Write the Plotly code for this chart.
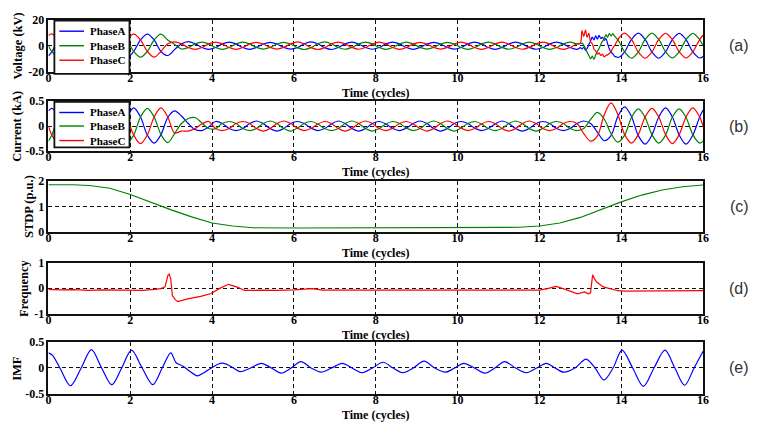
import numpy as np
import plotly.graph_objects as go

# ---------------------------------------------------------------------------
# Sampling instants (in cycles). Phase waveforms are sampled six times per
# cycle (offset by 1/12 cycle); the voltage recovery 13-14 is sampled 24x/cycle.
# ---------------------------------------------------------------------------
def six_per_cycle(c0, c1):
    return list(np.arange(12 * c0 + 1, 12 * c1, 2) / 12)

t_volt = [0.0] + six_per_cycle(0, 13) + list(np.arange(13 * 24, 14 * 24) / 24) + six_per_cycle(14, 16) + [16.0]
t_curr = [0.0] + six_per_cycle(0, 16) + [16.0]

# ---------------------------------------------------------------------------
# (a) Phase voltages, kV
# ---------------------------------------------------------------------------
volt_a = [-7.8,
          -4.5, 4.5, 9.0, 4.5, -4.5, -9.0,
          -4.6, 4.6, 9.2, 4.6, -4.6, -9.2,
          -4.4, 4.4, 8.8, 4.4, -4.4, -7.5,
          -3.0, 1.4, 3.2, 1.6, -1.4, -2.8,
          -1.4, 1.4, 2.8, 1.4, -1.4, -2.8,
          -1.3, 1.3, 2.6, 1.3, -1.3, -2.6,
          -1.5, 1.5, 2.9, 1.5, -1.5, -2.9,
          -1.4, 1.4, 2.7, 1.3, -1.4, -2.7,
          -1.4, 1.4, 2.8, 1.4, -1.4, -2.8,
          -1.3, 1.3, 2.6, 1.3, -1.3, -2.6,
          -1.4, 1.4, 2.8, 1.4, -1.4, -2.8,
          -1.4, 1.3, 2.7, 1.4, -1.3, -2.7,
          -1.4, 1.4, 2.8, 1.4, -1.4, -2.8,
          -1.5, -2.5, -1.0, -3.5, -2.0, 1.0, 3.5, 6.5, 4.5, 7.5, 5.0, 8.0,
          5.5, 6.5, 4.0, 5.5, 1.5, -2.5, -5.0, -6.0, -8.0, -8.5, -9.0, -8.7,
          -4.8, 4.8, 9.6, 4.8, -4.8, -9.6,
          -4.7, 4.7, 9.4, 4.7, -4.7, -9.4,
          -8.2]
volt_b = [0.0,
          -4.5, -9.0, -4.5, 4.5, 9.0, 4.5,
          -4.6, -9.2, -4.6, 4.6, 9.2, 4.6,
          -4.4, -8.8, -4.4, 4.4, 8.8, 4.4,
          1.0, -2.5, -1.5, 1.4, 2.8, 1.4,
          -1.4, -2.8, -1.4, 1.4, 2.8, 1.4,
          -1.3, -2.6, -1.3, 1.3, 2.6, 1.3,
          -1.5, -2.9, -1.5, 1.5, 2.9, 1.5,
          -1.4, -2.7, -1.3, 1.4, 2.7, 1.4,
          -1.4, -2.8, -1.4, 1.4, 2.8, 1.4,
          -1.3, -2.6, -1.3, 1.3, 2.6, 1.3,
          -1.4, -2.8, -1.4, 1.4, 2.8, 1.4,
          -1.3, -2.7, -1.4, 1.3, 2.7, 1.4,
          -1.4, -2.8, -1.4, 1.4, 2.8, 1.4,
          1.5, 2.0, 0.5, -2.0, -5.0, -7.5, -10.0, -8.0, -10.5, -7.0, -4.5, -2.0,
          1.0, 3.5, 5.5, 8.5, 6.5, 9.5, 7.5, 9.0, 7.5, 6.0, 4.5, 2.5,
          -4.8, -9.6, -4.8, 4.8, 9.6, 4.8,
          -4.7, -9.4, -4.7, 4.7, 9.4, 4.7,
          0.0]
volt_c = [7.8,
          9.0, 4.5, -4.5, -9.0, -4.5, 4.5,
          9.2, 4.6, -4.6, -9.2, -4.6, 4.6,
          8.8, 4.4, -4.4, -8.8, -4.4, 1.5,
          3.0, 1.5, -1.4, -2.8, -1.4, 1.4,
          2.8, 1.4, -1.4, -2.8, -1.4, 1.4,
          2.6, 1.3, -1.3, -2.6, -1.3, 1.3,
          2.9, 1.5, -1.5, -2.9, -1.5, 1.5,
          2.7, 1.4, -1.3, -2.7, -1.4, 1.3,
          2.8, 1.4, -1.4, -2.8, -1.4, 1.4,
          2.6, 1.3, -1.3, -2.6, -1.3, 1.3,
          2.8, 1.4, -1.4, -2.8, -1.4, 1.4,
          2.7, 1.3, -1.4, -2.7, -1.3, 1.4,
          2.8, 1.4, -1.4, -2.8, -1.4, 1.4,
          2.0, 11.5, 7.0, 12.0, 6.5, 9.5, 3.0, 1.5, -2.5, -4.0, -6.5, -5.5,
          -7.5, -6.5, -8.5, -7.5, -7.0, -6.0, -4.5, -2.0, 0.0, 2.3, 4.5, 6.5,
          9.6, 4.8, -4.8, -9.6, -4.8, 4.8,
          9.4, 4.7, -4.7, -9.4, -4.7, 4.7,
          8.2]

# ---------------------------------------------------------------------------
# (b) Phase currents, kA
# ---------------------------------------------------------------------------
curr_a = [0.30,
          0.35, 0.18, -0.18, -0.35, -0.18, 0.18,
          0.34, 0.17, -0.17, -0.34, -0.17, 0.17,
          0.36, 0.18, -0.18, -0.34, -0.17, 0.17,
          0.30, 0.20, 0.05, -0.07, -0.09, -0.02,
          0.09, 0.05, -0.05, -0.09, -0.05, 0.05,
          0.10, 0.05, -0.05, -0.10, -0.05, 0.05,
          0.09, 0.05, -0.04, -0.09, -0.05, 0.04,
          0.10, 0.05, -0.05, -0.10, -0.05, 0.05,
          0.09, 0.04, -0.05, -0.09, -0.04, 0.05,
          0.10, 0.05, -0.05, -0.10, -0.05, 0.05,
          0.09, 0.05, -0.04, -0.09, -0.05, 0.04,
          0.10, 0.05, -0.05, -0.10, -0.05, 0.05,
          0.09, 0.05, -0.05, -0.09, -0.05, 0.05,
          0.10, 0.05, -0.12, -0.29, -0.19, 0.19,
          0.38, 0.19, -0.19, -0.36, -0.18, 0.18,
          0.36, 0.18, -0.18, -0.36, -0.18, 0.18,
          0.32]
curr_b = [-0.30,
          -0.18, 0.18, 0.35, 0.18, -0.18, -0.35,
          -0.17, 0.17, 0.34, 0.17, -0.17, -0.34,
          -0.18, 0.18, 0.35, 0.18, -0.17, -0.33,
          -0.15, 0.05, 0.15, 0.17, 0.06, -0.05,
          -0.05, 0.05, 0.09, 0.05, -0.05, -0.09,
          -0.05, 0.05, 0.10, 0.05, -0.05, -0.10,
          -0.04, 0.05, 0.09, 0.04, -0.05, -0.09,
          -0.05, 0.05, 0.10, 0.05, -0.05, -0.10,
          -0.05, 0.04, 0.09, 0.05, -0.04, -0.09,
          -0.05, 0.05, 0.10, 0.05, -0.05, -0.10,
          -0.04, 0.05, 0.09, 0.04, -0.05, -0.09,
          -0.05, 0.05, 0.10, 0.05, -0.05, -0.10,
          -0.05, 0.05, 0.09, 0.05, -0.05, -0.09,
          -0.05, 0.13, 0.27, 0.14, -0.15, -0.32,
          -0.18, 0.17, 0.34, 0.17, -0.17, -0.34,
          -0.18, 0.18, 0.34, 0.17, -0.17, -0.34,
          -0.30]
curr_c = [0.0,
          -0.18, -0.35, -0.18, 0.18, 0.35, 0.18,
          -0.17, -0.34, -0.17, 0.17, 0.34, 0.17,
          -0.18, -0.35, -0.18, 0.18, 0.36, 0.18,
          -0.14, -0.10, -0.10, -0.05, 0.04, 0.09,
          -0.05, -0.09, -0.05, 0.05, 0.09, 0.05,
          -0.05, -0.10, -0.05, 0.05, 0.10, 0.05,
          -0.04, -0.09, -0.05, 0.04, 0.09, 0.05,
          -0.05, -0.10, -0.05, 0.05, 0.10, 0.05,
          -0.05, -0.09, -0.04, 0.05, 0.09, 0.04,
          -0.05, -0.10, -0.05, 0.05, 0.10, 0.05,
          -0.04, -0.09, -0.05, 0.04, 0.09, 0.05,
          -0.05, -0.10, -0.05, 0.05, 0.10, 0.05,
          -0.05, -0.09, -0.05, 0.05, 0.09, 0.05,
          -0.15, -0.30, -0.20, 0.22, 0.46, 0.23,
          -0.17, -0.34, -0.17, 0.18, 0.35, 0.18,
          -0.17, -0.35, -0.17, 0.18, 0.36, 0.18,
          0.0]

# ---------------------------------------------------------------------------
# (c) STDP, p.u.
# ---------------------------------------------------------------------------
stdp_t = [0, 0.6, 1.0, 1.5, 2.0, 2.5, 2.8, 3.0, 3.5, 4.0, 4.5, 5.0, 6.0, 7.0,
          8.0, 9.0, 10.0, 11.0, 11.5, 12.0, 12.5, 13.0, 13.5, 14.0, 14.5, 15.0,
          15.5, 16.0]
stdp_v = [1.86, 1.86, 1.83, 1.72, 1.47, 1.16, 1.0, 0.86, 0.58, 0.34, 0.22, 0.15,
          0.14, 0.14, 0.14, 0.14, 0.14, 0.15, 0.17, 0.22, 0.34, 0.56, 0.88, 1.18,
          1.45, 1.65, 1.78, 1.85]

# ---------------------------------------------------------------------------
# (d) Frequency deviation
# ---------------------------------------------------------------------------
freq_t = [0, 0.3, 0.6, 1.0, 1.3, 1.6, 2.0, 2.3, 2.6, 2.75,
          2.85, 2.92, 2.95, 2.99, 3.03, 3.1, 3.16, 3.4, 3.72, 3.96,
          4.2, 4.4, 4.6, 4.8, 5.2, 5.6, 6.0, 6.45, 6.7, 7.0,
          7.5, 8.0, 8.5, 9.0, 9.5, 10.0, 10.5, 11.0, 11.5, 12.0,
          12.2, 12.4, 12.6, 12.8, 12.93, 13.1, 13.2, 13.25, 13.3, 13.35,
          13.4, 13.56, 13.76, 13.92, 14.1, 14.5, 15.0, 15.5, 16.0]
freq_v = [-0.05, -0.07, -0.06, -0.09, -0.07, -0.08, -0.07, -0.09, -0.05, -0.02,
          0.05, 0.50, 0.55, 0.35, -0.30, -0.45, -0.52, -0.42, -0.32, -0.22,
          0.0, 0.15, 0.05, -0.09, -0.08, -0.09, -0.07, -0.02, -0.08, -0.08,
          -0.07, -0.09, -0.08, -0.07, -0.09, -0.08, -0.07, -0.09, -0.08, -0.08,
          -0.02, 0.07, -0.03, -0.15, -0.22, -0.15, -0.22, -0.18, 0.52, 0.35,
          0.24, 0.05, -0.03, -0.10, -0.12, -0.11, -0.10, -0.10, -0.10]

# ---------------------------------------------------------------------------
# (e) Intrinsic mode function
# ---------------------------------------------------------------------------
imf_t = [0.0, 0.1, 0.28, 0.54, 0.80, 1.05, 1.30, 1.55, 1.79, 2.03,
         2.29, 2.55, 2.78, 2.99, 3.12, 3.28, 3.45, 3.64, 3.82, 3.96,
         4.2, 4.36, 4.52, 4.68, 4.94, 5.2, 5.45, 5.69, 5.93, 6.17,
         6.42, 6.66, 6.92, 7.18, 7.42, 7.66, 7.92, 8.18, 8.42, 8.66,
         8.92, 9.18, 9.44, 9.70, 9.93, 10.15, 10.41, 10.67, 10.91, 11.15,
         11.42, 11.68, 11.93, 12.17, 12.38, 12.60, 12.87, 13.14, 13.36, 13.58,
         13.80, 14.02, 14.28, 14.54, 14.80, 15.07, 15.31, 15.55, 15.78, 16.0]
imf_v = [0.29, 0.24, 0.0, -0.34, 0.0, 0.35, 0.0, -0.32, 0.0, 0.34,
         0.0, -0.32, 0.0, 0.29, 0.10, 0.04, -0.06, -0.15, -0.08, -0.01,
         0.09, 0.07, 0.0, -0.07, 0.0, 0.09, 0.0, -0.10, 0.0, 0.12,
         0.0, -0.08, 0.0, 0.09, 0.0, -0.09, 0.0, 0.11, 0.0, -0.09,
         0.0, 0.13, 0.0, -0.08, 0.0, 0.09, 0.0, -0.10, 0.0, 0.12,
         0.0, -0.09, 0.0, 0.09, 0.0, -0.08, 0.0, 0.17, 0.0, -0.23,
         0.0, 0.34, 0.0, -0.35, 0.0, 0.34, 0.0, -0.33, 0.0, 0.32]

# ---------------------------------------------------------------------------
# Styling
# ---------------------------------------------------------------------------
W, H = 757, 435
BLUE, GREEN, RED = "#0000ff", "#008000", "#ff0000"
SERIF = "Liberation Serif"
PHASE_NAMES = ["PhaseA", "PhaseB", "PhaseC"]
PHASE_COLORS = [BLUE, GREEN, RED]

# panel frames in pixels: (top, bottom); all share the same left/right
X_LEFT, X_RIGHT = 46, 708.5
PANELS = [(13, 67), (97, 149), (180, 232), (264, 317), (346, 400)]

y_ranges = [[-20, 20], [-0.5, 0.5], [0, 2], [-1, 1], [-0.5, 0.5]]
y_ticks = [[-20, 0, 20], [-0.5, 0, 0.5], [0, 1, 2], [-1, 0, 1], [-0.5, 0, 0.5]]
y_ticktext = [["-20", "0", "20"], ["-0.5", "0", "0.5"], ["0", "1", "2"],
              ["-1", "0", "1"], ["-0.5", "0", "0.5"]]
y_titles = ["Voltage (kV)", "Current (kA)", "STDP (p.u.)", "Frequency", "IMF"]
y_title_x = [15, 14, 27, 21, 14]
panel_tags = ["(a)", "(b)", "(c)", "(d)", "(e)"]
x_ticks = [0, 2, 4, 6, 8, 10, 12, 14, 16]

# legend boxes for the two phase panels: (left, top, right, bottom, row ys) in px
LEGEND_BOXES = [(52, 14, 128, 69, [25, 40, 55]),
                (52, 98, 128, 145, [109, 123, 138])]

fig = go.Figure()

def line(x, y, color, idx, shape="spline"):
    fig.add_trace(go.Scatter(
        x=x, y=y, mode="lines",
        line=dict(color=color, width=1.2, shape=shape, smoothing=0.9),
        xaxis="x" if idx == 0 else f"x{idx + 1}",
        yaxis="y" if idx == 0 else f"y{idx + 1}",
        showlegend=False,
    ))

line(t_volt, volt_a, BLUE, 0)
line(t_volt, volt_b, GREEN, 0)
line(t_volt, volt_c, RED, 0)
line(t_curr, curr_a, BLUE, 1)
line(t_curr, curr_b, GREEN, 1)
line(t_curr, curr_c, RED, 1)
line(stdp_t, stdp_v, GREEN, 2, shape="linear")
line(freq_t, freq_v, RED, 3, shape="linear")
line(imf_t, imf_v, BLUE, 4)

tick_font = dict(family=SERIF, size=12, color="black", weight="bold")
label_font = dict(family=SERIF, size=12, color="black", weight="bold")
legend_font = dict(family=SERIF, size=11, color="black", weight="bold")
layout = dict(
    width=W, height=H,
    margin=dict(l=0, r=0, t=0, b=0),
    paper_bgcolor="white", plot_bgcolor="white",
    annotations=[], shapes=[],
)

def px(xp, yp):
    return xp / W, 1 - yp / H

for i, (top, bot) in enumerate(PANELS):
    sfx = "" if i == 0 else str(i + 1)
    layout["xaxis" + sfx] = dict(
        domain=[X_LEFT / W, X_RIGHT / W], range=[0, 16],
        anchor="y" + sfx, tickvals=x_ticks, ticktext=[str(v) for v in x_ticks],
        tickfont=tick_font, ticks="", ticklabelstandoff=-6,
        showline=True, mirror=True, linecolor="#111111", linewidth=1.6,
        showgrid=True, gridcolor="#111111", gridwidth=1, griddash="4px,3px",
        zeroline=False,
    )
    layout["yaxis" + sfx] = dict(
        domain=[1 - bot / H, 1 - top / H], range=y_ranges[i], anchor="x" + sfx,
        tickvals=y_ticks[i], ticktext=y_ticktext[i], tickfont=tick_font, ticks="",
        showline=True, mirror=True, linecolor="#111111", linewidth=1.6,
        showgrid=True, gridcolor="#111111", gridwidth=1, griddash="4px,3px",
        zeroline=False,
    )
    # x-axis title
    xa, ya = px((X_LEFT + X_RIGHT) / 2, bot + 22)
    layout["annotations"].append(dict(
        text="Time (cycles)", xref="paper", yref="paper", x=xa, y=ya,
        showarrow=False, xanchor="center", yanchor="middle", font=label_font,
    ))
    # y-axis title
    xa, ya = px(y_title_x[i], (top + bot) / 2)
    layout["annotations"].append(dict(
        text=y_titles[i], textangle=-90, xref="paper", yref="paper",
        x=xa, y=ya, showarrow=False, xanchor="center", yanchor="middle",
        font=dict(family=SERIF, size=12.5, color="black", weight="bold"),
    ))
    # panel tag
    xa, ya = px(745, (top + bot) / 2)
    layout["annotations"].append(dict(
        text=panel_tags[i], xref="paper", yref="paper", x=xa, y=ya,
        showarrow=False, xanchor="center", yanchor="middle",
        font=dict(family="Liberation Sans", size=16, color="#333333"),
    ))

# phase legends drawn inside panels (a) and (b)
for (l, t, r, b, rows) in LEGEND_BOXES:
    x0, y0 = px(l, b)
    x1, y1 = px(r, t)
    layout["shapes"].append(dict(
        type="rect", xref="paper", yref="paper", x0=x0, y0=y0, x1=x1, y1=y1,
        fillcolor="white", line=dict(color="#111111", width=1.8), layer="above",
    ))
    for name, color, ry in zip(PHASE_NAMES, PHASE_COLORS, rows):
        lx0, ly = px(57, ry)
        lx1, _ = px(82, ry)
        layout["shapes"].append(dict(
            type="line", xref="paper", yref="paper", x0=lx0, x1=lx1, y0=ly, y1=ly,
            line=dict(color=color, width=1.4), layer="above",
        ))
        tx, _ = px(86, ry)
        layout["annotations"].append(dict(
            text=name, xref="paper", yref="paper", x=tx, y=ly,
            showarrow=False, xanchor="left", yanchor="middle", font=legend_font,
        ))

fig.update_layout(**layout)
fig.write_html("out.html")
